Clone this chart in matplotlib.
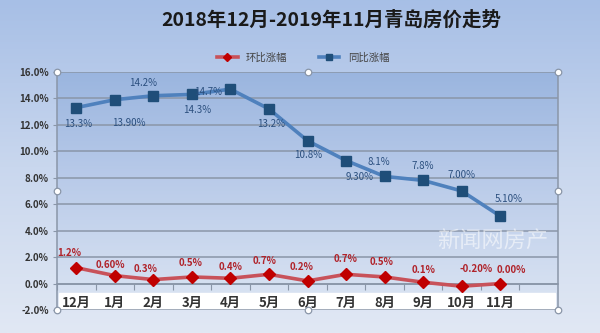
import numpy as np
import matplotlib.pyplot as plt
from matplotlib.colors import LinearSegmentedColormap

plt.rcParams['font.family'] = ['Noto Sans CJK SC', 'DejaVu Sans']

# Monthly data, Dec 2018 - Nov 2019
months = ['12月', '1月', '2月', '3月', '4月', '5月', '6月', '7月', '8月', '9月', '10月', '11月']
mom = [1.2, 0.6, 0.3, 0.5, 0.4, 0.7, 0.2, 0.7, 0.5, 0.1, -0.2, 0.0]
yoy = [13.3, 13.9, 14.2, 14.3, 14.7, 13.2, 10.8, 9.3, 8.1, 7.8, 7.0, 5.1]
mom_labels = ['1.2%', '0.60%', '0.3%', '0.5%', '0.4%', '0.7%', '0.2%', '0.7%',
              '0.5%', '0.1%', '-0.20%', '0.00%']
yoy_labels = ['13.3%', '13.90%', '14.2%', '14.3%', '14.7%', '13.2%', '10.8%', '9.30%',
              '8.1%', '7.8%', '7.00%', '5.10%']
yticks = np.arange(-2, 17, 2)

# label offsets in pixels (dx, dy)
mom_off = [(-7, 15), (-4, 11), (-8, 11), (-1, 14), (0, 11), (-4, 13),
           (-6, 14), (0, 15), (-3, 15), (0, 12), (14, 17), (11, 14)]
yoy_off = [(2, -16), (14, -23), (-10, 13), (5, -16), (-22, -3), (2, -15),
           (1, -14), (14, -16), (-6, 14), (0, 14), (0, 16), (8, 17)]

fig = plt.figure(figsize=(6, 3.33), dpi=100)

# background gradient
bg = fig.add_axes([0, 0, 1, 1], zorder=-10)
bg_cmap = LinearSegmentedColormap.from_list('bg', ['#a7bfe6', '#c9d7ee', '#e1e8f4'])
bg.imshow(np.linspace(0, 1, 256).reshape(-1, 1), cmap=bg_cmap, aspect='auto',
          extent=[0, 1, 0, 1], origin='upper')
bg.axis('off')

ax = fig.add_axes([0.095, 0.069, 0.835, 0.715])
x = np.arange(len(months))
ax.set_xlim(-0.5, len(months) + 0.5)
ax.set_ylim(-2, 16)

plot_cmap = LinearSegmentedColormap.from_list('plot', ['#9ab5df', '#bccdea', '#dce5f3'])
ax.imshow(np.linspace(0, 1, 256).reshape(-1, 1), cmap=plot_cmap, aspect='auto',
          extent=[-0.5, len(months) + 0.5, -2, 16], origin='upper', zorder=0.1)
ax.axhspan(-2, -0.75, xmin=0.003, xmax=0.995, color='white', zorder=0.3)

ax.set_yticks(yticks)
ax.set_yticklabels([f'{v:.1f}%' for v in yticks], fontsize=7, fontweight='bold', color='#333333')
ax.tick_params(axis='y', length=3, color='#8a96a8', pad=3)
ax.grid(axis='y', color='#8a96a8', linewidth=1.1)
ax.set_axisbelow(True)

# category boundaries get tick marks on the zero line, names sit in between
ax.spines['bottom'].set_position(('data', 0))
ax.set_xticks(np.arange(-0.5, len(months) + 0.5, 1))
ax.set_xticklabels([])
ax.set_xticks(x, minor=True)
ax.set_xticklabels(months, minor=True, fontsize=9.5, fontweight='bold', color='#333333')
ax.tick_params(axis='x', which='major', length=4, color='#8a96a8', direction='out')
ax.tick_params(axis='x', which='minor', length=0, pad=9)
for s in ['left', 'right', 'bottom', 'top']:
    ax.spines[s].set_color('#8a96a8')
    ax.spines[s].set_linewidth(1.1)
ax.spines['top'].set_visible(False)

ax.plot(x, mom, color='#c8525a', lw=2.6, marker='D', ms=6.5, mfc='#c00000', mec='#c00000',
        label='环比涨幅', zorder=4)
ax.plot(x, yoy, color='#4f81bd', lw=2.6, marker='s', ms=7, mfc='#1f4e79', mec='#1f4e79',
        label='同比涨幅', zorder=4)

for xi, v, t, off in zip(x, mom, mom_labels, mom_off):
    ax.annotate(t, (xi, v), xytext=off, textcoords='offset pixels', ha='center', va='center',
                fontsize=7, fontweight='bold', color='#b0232a', zorder=5)
for xi, v, t, off in zip(x, yoy, yoy_labels, yoy_off):
    ax.annotate(t, (xi, v), xytext=off, textcoords='offset pixels', ha='center', va='center',
                fontsize=7, color='#2b4f7e', zorder=5)

# selection handles around the plot area
hx = [0, 0.5, 1, 0, 1, 0, 0.5, 1]
hy = [1, 1, 1, 0.5, 0.5, 0, 0, 0]
ax.scatter(hx, hy, s=22, facecolor='white', edgecolor='#8a96a8', lw=0.9,
           transform=ax.transAxes, clip_on=False, zorder=6)

ax.text(0.87, 0.29, '新闻网房产', transform=ax.transAxes, ha='center', va='center',
        fontsize=16, color='white', alpha=0.55, zorder=3)

fig.text(0.552, 0.94, '2018年12月-2019年11月青岛房价走势', ha='center', va='center',
         fontsize=14, fontweight='bold', color='#1a1a1a')
fig.legend(loc='center', bbox_to_anchor=(0.505, 0.826), ncol=2, frameon=False,
           fontsize=7.5, handlelength=2, columnspacing=3, markerscale=0.6,
           labelcolor='#444444')

fig.savefig('out.png', dpi=100)
